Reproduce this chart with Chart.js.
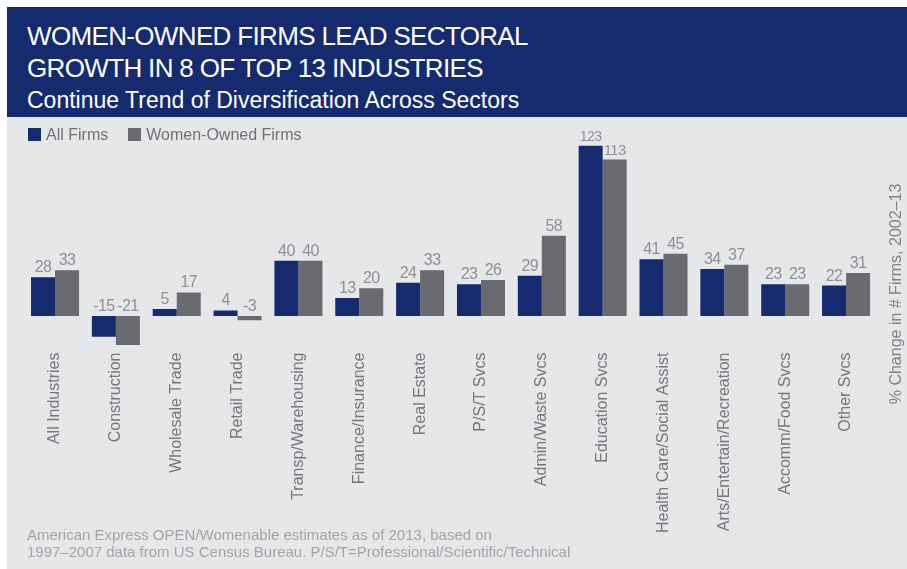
<!DOCTYPE html>
<html>
<head>
<meta charset="utf-8">
<script src="https://cdn.jsdelivr.net/npm/chart.js@4.4.1/dist/chart.umd.min.js"></script>
<style>
  html, body { margin:0; padding:0; background:#ffffff; width:907px; height:569px; overflow:hidden;
    font-family:"Liberation Sans", Arial, Helvetica, sans-serif; }
  #header { position:absolute; left:7px; top:7px; width:900px; height:110px; background:#162a70; color:#ffffff; }
  .tl { position:absolute; left:20px; font-size:26px; line-height:26px; letter-spacing:-0.65px; white-space:nowrap; }
  #sub { position:absolute; left:20px; font-size:23px; line-height:23px; white-space:nowrap; }
  #panel { position:absolute; left:7px; top:117px; width:900px; height:452px; background:#e6e7e9; }
  #chart { position:absolute; left:7px; top:117px; }
  #legend { position:absolute; left:28px; top:126px; height:17px; display:flex; align-items:center;
    font-size:16px; line-height:16px; color:#707276; white-space:nowrap; }
  #legend .box { display:inline-block; width:13px; height:13px; }
  #legend .txt { margin-left:5px; }
  #legend .item + .item { margin-left:20px; }
  #legend .item { display:flex; align-items:center; }
  #foot { position:absolute; left:27px; top:526px; font-size:15px; line-height:17px; color:#a3a5a9; white-space:nowrap; }
</style>
</head>
<body>
<div id="header">
  <div class="tl" style="top:16px">WOMEN-OWNED FIRMS LEAD SECTORAL</div>
  <div class="tl" style="top:47.5px">GROWTH IN 8 OF TOP 13 INDUSTRIES</div>
  <div id="sub" style="top:81.5px">Continue Trend of Diversification Across Sectors</div>
</div>
<div id="panel"></div>
<canvas id="chart" width="900" height="452"></canvas>
<div id="legend"></div>
<div id="foot">American Express OPEN/Womenable estimates as of 2013, based on<br>1997–2007 data from US Census Bureau. P/S/T=Professional/Scientific/Technical</div>
<script>
// ---- data ----
const categories = [
  "All Industries", "Construction", "Wholesale Trade", "Retail Trade",
  "Transp/Warehousing", "Finance/Insurance", "Real Estate", "P/S/T Svcs",
  "Admin/Waste Svcs", "Education Svcs", "Health Care/Social Assist",
  "Arts/Entertain/Recreation", "Accomm/Food Svcs", "Other Svcs"
];
const allFirms   = [28, -15, 5, 4, 40, 13, 24, 23, 29, 123, 41, 34, 23, 22];
const womenOwned = [33, -21, 17, -3, 40, 20, 33, 26, 58, 113, 45, 37, 23, 31];
const seriesNames = ["All Firms", "Women-Owned Firms"];
const axisTitle = "% Change in # Firms, 2002–13";

const NAVY = "#162a70";
const GRAY = "#6a6b70";
const FONT = '"Liberation Sans", Arial, Helvetica, sans-serif';

const valueLabels = {
  id: "valueLabels",
  afterDatasetsDraw(chart) {
    const ctx = chart.ctx;
    const zero = chart.scales.y.getPixelForValue(0);
    ctx.save();
    ctx.fillStyle = "#8e9196";
    ctx.textAlign = "center";
    ctx.textBaseline = "alphabetic";
    try { ctx.letterSpacing = "-0.6px"; } catch (e) {}
    chart.data.datasets.forEach((ds, i) => {
      const meta = chart.getDatasetMeta(i);
      meta.data.forEach((bar, j) => {
        const v = ds.data[j];
        const txt = String(v);
        let size = 16;
        ctx.font = size + "px " + FONT;
        const w = ctx.measureText(txt).width;
        const maxW = bar.width - 2;
        if (w > maxW) { size = Math.floor(size * maxW / w * 10) / 10; ctx.font = size + "px " + FONT; }
        const y = v >= 0 ? bar.y - 5 : zero - 5;
        ctx.fillText(txt, bar.x, y);
      });
    });
    ctx.restore();
  }
};

const rightTitle = {
  id: "rightTitle",
  afterDraw(chart) {
    const ctx = chart.ctx;
    ctx.save();
    ctx.translate(889.5, 177);
    ctx.rotate(-Math.PI / 2);
    ctx.font = "16px " + FONT;
    ctx.fillStyle = "#808387";
    ctx.textAlign = "center";
    ctx.textBaseline = "middle";
    ctx.fillText(axisTitle, 0, 0);
    ctx.restore();
  }
};

const chart = new Chart(document.getElementById("chart"), {
  type: "bar",
  data: {
    labels: categories,
    datasets: [
      { label: seriesNames[0], data: allFirms, backgroundColor: NAVY, borderWidth: 0 },
      { label: seriesNames[1], data: womenOwned, backgroundColor: GRAY, borderWidth: 0 }
    ]
  },
  options: {
    responsive: false,
    animation: false,
    devicePixelRatio: 1,
    layout: { padding: { left: 17.6, right: 30.5, top: 19, bottom: 0 } },
    datasets: { bar: { barPercentage: 1.0, categoryPercentage: 0.789 } },
    plugins: { legend: { display: false }, tooltip: { enabled: false }, title: { display: false } },
    scales: {
      x: {
        grid: { display: false, drawTicks: false },
        border: { display: false },
        ticks: {
          minRotation: 90, maxRotation: 90, autoSkip: false, padding: 6,
          color: "#76787c", font: { family: FONT, size: 16 }
        },
        afterFit(axis) { axis.height = 222.5; }
      },
      y: {
        display: false,
        min: -22, max: 130
      }
    }
  },
  plugins: [valueLabels, rightTitle]
});

// legend built from the chart's datasets
const legendEl = document.getElementById("legend");
chart.data.datasets.forEach(ds => {
  const item = document.createElement("span");
  item.className = "item";
  const box = document.createElement("span");
  box.className = "box";
  box.style.background = ds.backgroundColor;
  const t = document.createElement("span");
  t.className = "txt";
  t.textContent = ds.label;
  item.appendChild(box); item.appendChild(t);
  legendEl.appendChild(item);
});
</script>
</body>
</html>
